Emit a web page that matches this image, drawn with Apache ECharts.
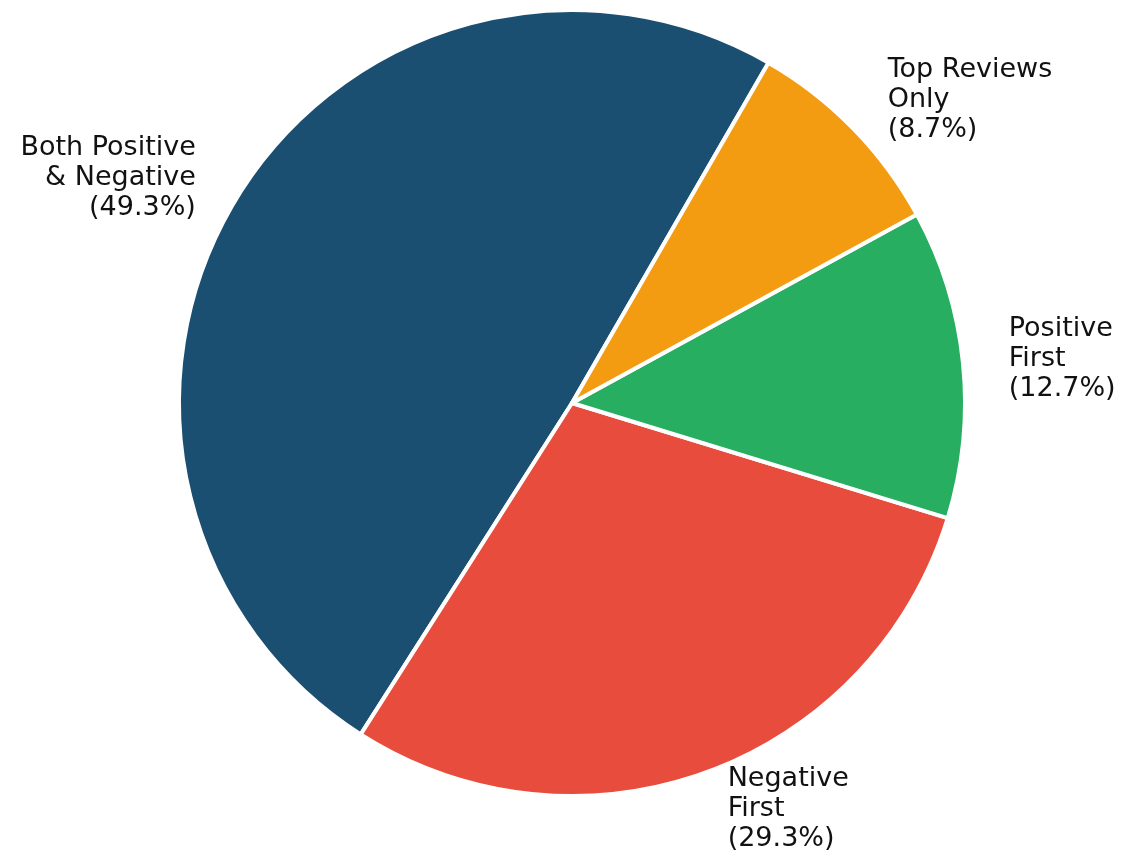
<!DOCTYPE html>
<html>
<head>
<meta charset="utf-8">
<title>Review display strategy</title>
<script src="https://cdn.jsdelivr.net/npm/echarts@6/dist/echarts.min.js"></script>
<style>
  html, body { margin: 0; padding: 0; background: #ffffff; }
  #chart { width: 1125px; height: 850px; }
</style>
</head>
<body>
<div id="chart"></div>
<script>
// Share of each review display strategy (percent)
const categories = ['Both Positive\n& Negative', 'Negative\nFirst', 'Positive\nFirst', 'Top Reviews\nOnly'];
const shares = [49.3, 29.3, 12.7, 8.7];
const colors = ['#1b4f72', '#e74c3c', '#27ae60', '#f39c12'];

const chart = echarts.init(document.getElementById('chart'), null, { renderer: 'canvas' });

chart.setOption({
  backgroundColor: '#ffffff',
  animation: false,
  series: [{
    type: 'pie',
    center: [572, 403],
    radius: 393,
    startAngle: 60,
    clockwise: false,
    avoidLabelOverlap: false,
    data: categories.map((name, i) => ({
      name: name,
      value: shares[i],
      itemStyle: { color: colors[i] }
    })),
    itemStyle: { borderColor: '#ffffff', borderWidth: 4 },
    label: {
      show: true,
      position: 'outside',
      distanceToLabelLine: 6,
      formatter: p => p.name + '\n(' + p.value.toFixed(1) + '%)',
      fontFamily: 'DejaVu Sans',
      fontSize: 27,
      lineHeight: 30,
      color: '#111111'
    },
    labelLine: { show: false, length: 40, length2: 0 },
    emphasis: { disabled: true }
  }]
});
</script>
</body>
</html>
